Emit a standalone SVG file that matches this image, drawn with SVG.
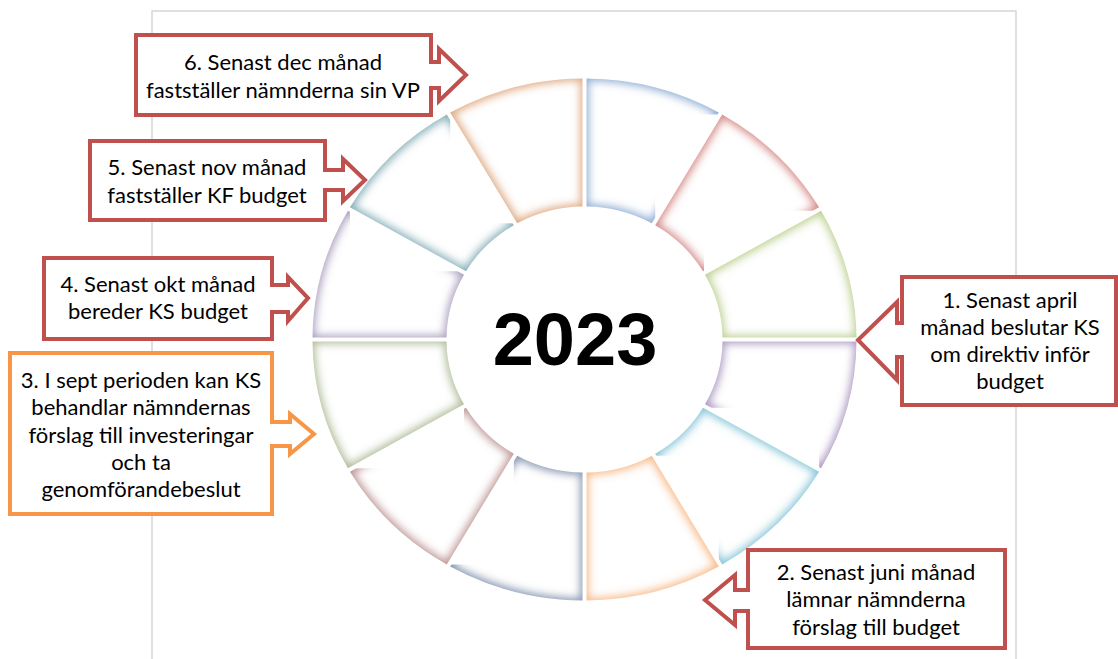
<svg xmlns="http://www.w3.org/2000/svg" width="1118" height="659" viewBox="0 0 1118 659">
<style>
.bb{fill:#ffffff;stroke:none}
.seg{filter:url(#ig)}
.co{fill:#ffffff;stroke:#c0504d;stroke-width:4;stroke-linejoin:miter}
.co.or{stroke:#f79646}
.t{font-family:Lato,"Liberation Sans",sans-serif;font-size:22px;fill:#000;text-anchor:middle}
.yr{font-family:"Liberation Sans",Arial,sans-serif;font-weight:bold;font-size:74px;fill:#000;text-anchor:middle}
</style>
<defs>
<filter id="ig" x="-10%" y="-10%" width="120%" height="120%" color-interpolation-filters="sRGB">
<feMorphology in="SourceAlpha" operator="erode" radius="2" result="e"/>
<feGaussianBlur in="e" stdDeviation="4" result="b"/>
<feFlood flood-color="#ffffff" result="f"/>
<feComposite in="f" in2="b" operator="in" result="w"/>
<feComposite in="w" in2="SourceGraphic" operator="atop"/>
</filter>
</defs>
<rect x="152" y="11" width="864" height="700" fill="none" stroke="#d6d6d6" stroke-width="1.5"/>
<g id="ring">
<rect class="bb" x="586.5" y="78.5" width="132.3" height="144.8"/>
<path class="seg" fill="#8eadd4" d="M586.5,78.5 A272,261 0 0 1 718.8,112.5 L651.8,223.3 A138,133 0 0 0 586.5,206.5 Z"/>
<rect class="bb" x="655.2" y="114.5" width="163.9" height="156.8"/>
<path class="seg" fill="#d68b89" d="M722.2,114.5 A272,261 0 0 1 819.1,207.3 L703.0,271.3 A138,133 0 0 0 655.2,225.3 Z"/>
<rect class="bb" x="704" y="210.7" width="152.5" height="126.8"/>
<path class="seg" fill="#bcd190" d="M821.1,210.7 A272,261 0 0 1 856.5,337.5 L722.5,337.5 A138,133 0 0 0 705.0,274.7 Z"/>
<rect class="bb" x="705" y="341.5" width="151.5" height="126.8"/>
<path class="seg" fill="#ac99c2" d="M856.5,341.5 A272,261 0 0 1 821.1,468.3 L705.0,404.3 A138,133 0 0 0 722.5,341.5 Z"/>
<rect class="bb" x="655.2" y="407.7" width="163.9" height="156.8"/>
<path class="seg" fill="#88c7d9" d="M819.1,471.7 A272,261 0 0 1 722.2,564.5 L655.2,453.7 A138,133 0 0 0 703.0,407.7 Z"/>
<rect class="bb" x="586.5" y="455.7" width="132.3" height="144.8"/>
<path class="seg" fill="#f9b987" d="M718.8,566.5 A272,261 0 0 1 586.5,600.5 L586.5,472.5 A138,133 0 0 0 651.8,455.7 Z"/>
<rect class="bb" x="450.2" y="455.7" width="132.3" height="144.8"/>
<path class="seg" fill="#8595b0" d="M582.5,600.5 A272,261 0 0 1 450.2,566.5 L517.2,455.7 A138,133 0 0 0 582.5,472.5 Z"/>
<rect class="bb" x="349.9" y="407.7" width="163.9" height="156.8"/>
<path class="seg" fill="#bf9797" d="M446.8,564.5 A272,261 0 0 1 349.9,471.7 L466.0,407.7 A138,133 0 0 0 513.8,453.7 Z"/>
<rect class="bb" x="312.5" y="341.5" width="151.5" height="126.8"/>
<path class="seg" fill="#afbc98" d="M347.9,468.3 A272,261 0 0 1 312.5,341.5 L446.5,341.5 A138,133 0 0 0 464.0,404.3 Z"/>
<rect class="bb" x="312.5" y="210.7" width="151.5" height="126.8"/>
<path class="seg" fill="#ab9fbf" d="M312.5,337.5 A272,261 0 0 1 347.9,210.7 L464.0,274.7 A138,133 0 0 0 446.5,337.5 Z"/>
<rect class="bb" x="349.9" y="114.5" width="163.9" height="156.8"/>
<path class="seg" fill="#87b0ba" d="M349.9,207.3 A272,261 0 0 1 446.8,114.5 L513.8,225.3 A138,133 0 0 0 466.0,271.3 Z"/>
<rect class="bb" x="450.2" y="78.5" width="132.3" height="144.8"/>
<path class="seg" fill="#dfa880" d="M450.2,112.5 A272,261 0 0 1 582.5,78.5 L582.5,206.5 A138,133 0 0 0 517.2,223.3 Z"/>
</g>
<g id="year"><text class="yr" x="575" y="365">2023</text></g>
<g id="callout6">
<path class="co" d="M136,35 H431 V62 H439 V49 L466,75 L439,101 V88 H431 V115 H136 Z"/>
<text class="t" x="283" y="70">6. Senast dec månad</text>
<text class="t" x="283" y="98">fastställer nämnderna sin VP</text>
</g>
<g id="callout5">
<path class="co" d="M90,141 H325 V170 H343 V159 L365,180 L343,201 V190 H325 V220 H90 Z"/>
<text class="t" x="207" y="175">5. Senast nov månad</text>
<text class="t" x="207" y="203">fastställer KF budget</text>
</g>
<g id="callout4">
<path class="co" d="M44,258 H272 V285 H288 V277 L308,298 L288,321 V312 H272 V339 H44 Z"/>
<text class="t" x="158" y="292">4. Senast okt månad</text>
<text class="t" x="158" y="319">bereder KS budget</text>
</g>
<g id="callout3">
<path class="co or" d="M10,353 H272 V422 H290 V414 L314,434 L290,454 V446 H272 V514 H10 Z"/>
<text class="t" x="141" y="388">3. I sept perioden kan KS</text>
<text class="t" x="141" y="415">behandlar nämndernas</text>
<text class="t" x="141" y="443">förslag till investeringar</text>
<text class="t" x="141" y="470">och ta</text>
<text class="t" x="141" y="497">genomförandebeslut</text>
</g>
<g id="callout1">
<path class="co" d="M1116,277 V405 H902 V357 H897 V380 L858,340 L897,302 V323 H902 V277 Z"/>
<text class="t" x="1010" y="308">1. Senast april</text>
<text class="t" x="1010" y="335">månad beslutar KS</text>
<text class="t" x="1010" y="362">om direktiv inför</text>
<text class="t" x="1010" y="389">budget</text>
</g>
<g id="callout2">
<path class="co" d="M748,550 H1005 V648 H748 V611 H735 V625 L705,600 L735,575 V590 H748 Z"/>
<text class="t" x="876" y="580">2. Senast juni månad</text>
<text class="t" x="876" y="607">lämnar nämnderna</text>
<text class="t" x="876" y="635">förslag till budget</text>
</g>
</svg>
